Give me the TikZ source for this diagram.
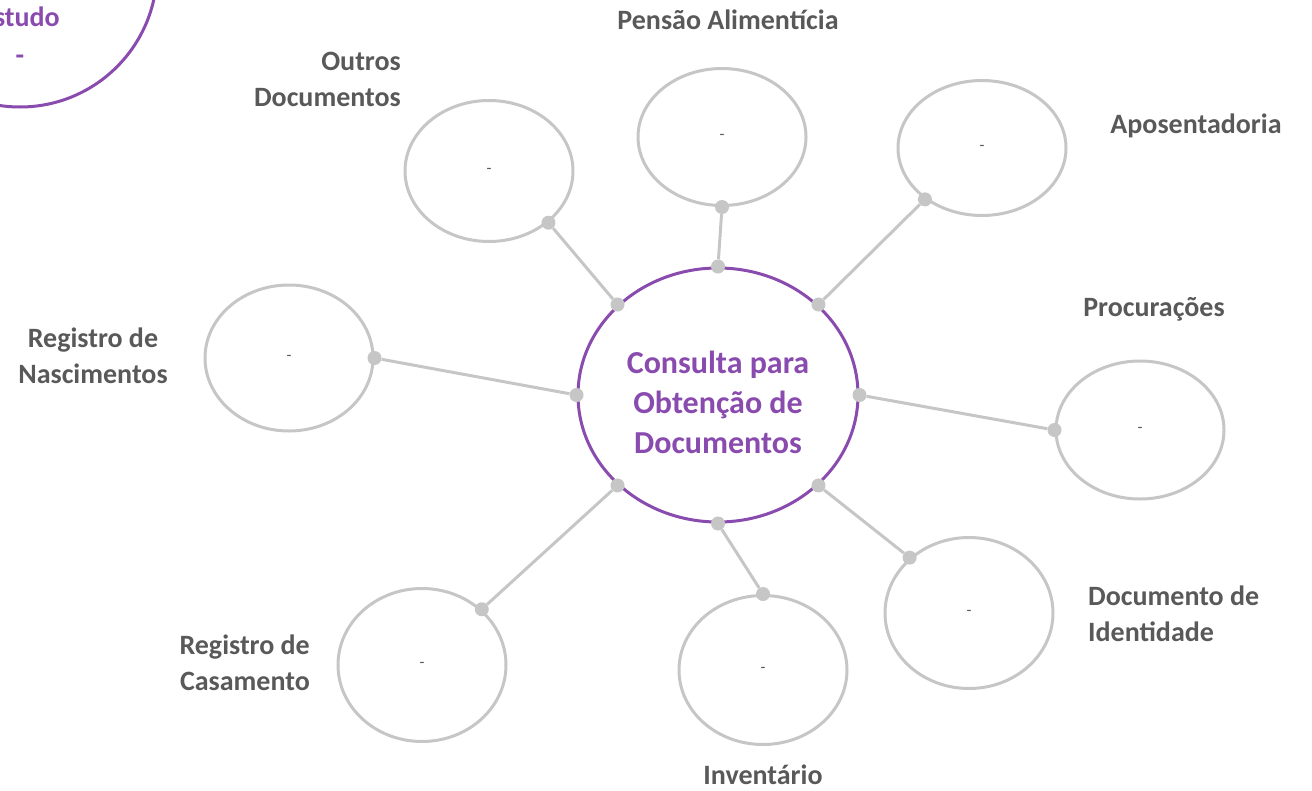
\documentclass[tikz,border=0pt]{standalone}
\usepackage{fontspec}
\setmainfont{Carlito}
\usepackage{xcolor}
\definecolor{mapviolet}{HTML}{8A4BAF}
\definecolor{mapgray}{HTML}{C6C6C6}
\definecolor{maptext}{HTML}{595959}
\usetikzlibrary{shapes.geometric,positioning}
\tikzset{
  hubring/.style={draw=mapviolet,line width=3pt,ellipse,fill=white,inner sep=0pt,align=center,text=mapviolet,font=\bfseries\fontsize{32}{40}\selectfont},
  hubtext/.style={text=mapviolet,inner sep=0pt,align=center,font=\bfseries\fontsize{32}{40}\selectfont},
  leafring/.style={draw=mapgray,line width=3pt,ellipse,fill=white,inner sep=0pt,minimum width=168pt,minimum height=138pt,text=maptext,font=\fontsize{16}{18}\selectfont},
  leafdot/.style={circle,fill=mapgray,inner sep=0pt,minimum size=14pt},
  leaflink/.style={draw=mapgray,line width=3pt},
  leaftitle/.style={text=maptext,inner sep=0pt,font=\bfseries\fontsize{28}{36}\selectfont},
}

\begin{document}
\begin{tikzpicture}[x=1pt,y=-1pt]
\useasboundingbox (0,0) rectangle (1312,790);

% partly hidden study ring, top left
\node[hubring,circle,minimum size=274pt] (est) at (20,-30) {};
\node[hubtext,font=\bfseries\fontsize{28}{38}\selectfont] (esttxt) at (20,36) {Estudo\\-};

% hub
\node[hubring,minimum width=280pt,minimum height=254pt] (hub) at (718,395) {};
\node[hubtext] (hubtxt) at (718,402) {Consulta para\\Obtenção de\\Documentos};

% leaves
\node[leafring,minimum height=137pt] (pen) at (722,137) {-};
\node[leafring,minimum height=135pt] (apo) at (982,148) {-};
\node[leafring,minimum height=141pt] (out) at (489,171) {-};
\node[leafring,minimum height=146pt] (nas) at (289,358) {-};
\node[leafring] (pro) at (1140,430) {-};
\node[leafring,minimum height=151pt] (ide) at (969,613) {-};
\node[leafring,minimum height=149pt] (inv) at (763,670) {-};
\node[leafring,minimum height=153pt] (cas) at (422,665) {-};

% titles
\node[leaftitle] (pentit) at (728,20) {Pensão Alimentícia};
\node[leaftitle,align=right,anchor=east] (outtit) at (401,79) {Outros\\Documentos};
\node[leaftitle] (apotit) at (1196,126) {Aposentadoria};
\node[leaftitle,align=center] (nastit) at (93,356) {Registro de\\Nascimentos};
\node[leaftitle] (protit) at (1154,309) {Procurações};
\node[leaftitle,align=left,anchor=west] (idetit) at (1088,614) {Documento de\\Identidade};
\node[leaftitle] (invtit) at (763,775) {Inventário};
\node[leaftitle,align=right,anchor=east] (castit) at (310,663) {Registro de\\Casamento};

% dots on the hub
\node[leafdot] (h-pen) at (hub.90) {};
\node[leafdot] (h-apo) at (hub.42) {};
\node[leafdot] (h-out) at (hub.138) {};
\node[leafdot] (h-nas) at (hub.180) {};
\node[leafdot] (h-pro) at (hub.0) {};
\node[leafdot] (h-cas) at (hub.222) {};
\node[leafdot] (h-inv) at (hub.270) {};
\node[leafdot] (h-ide) at (hub.318) {};

% dots on the leaves
\node[leafdot] (l-pen) at (pen.270) {};
\node[leafdot] (l-apo) at (apo.222) {};
\node[leafdot] (l-out) at (out.319) {};
\node[leafdot] (l-nas) at (nas.0) {};
\node[leafdot] (l-pro) at (pro.180) {};
\node[leafdot] (l-ide) at (ide.137) {};
\node[leafdot] (l-inv) at (inv.90) {};
\node[leafdot] (l-cas) at (cas.43) {};

% links
\draw[leaflink] (h-pen) -- (l-pen);
\draw[leaflink] (h-apo) -- (l-apo);
\draw[leaflink] (h-out) -- (l-out);
\draw[leaflink] (h-nas) -- (l-nas);
\draw[leaflink] (h-pro) -- (l-pro);
\draw[leaflink] (h-ide) -- (l-ide);
\draw[leaflink] (h-inv) -- (l-inv);
\draw[leaflink] (h-cas) -- (l-cas);
\end{tikzpicture}
\end{document}
